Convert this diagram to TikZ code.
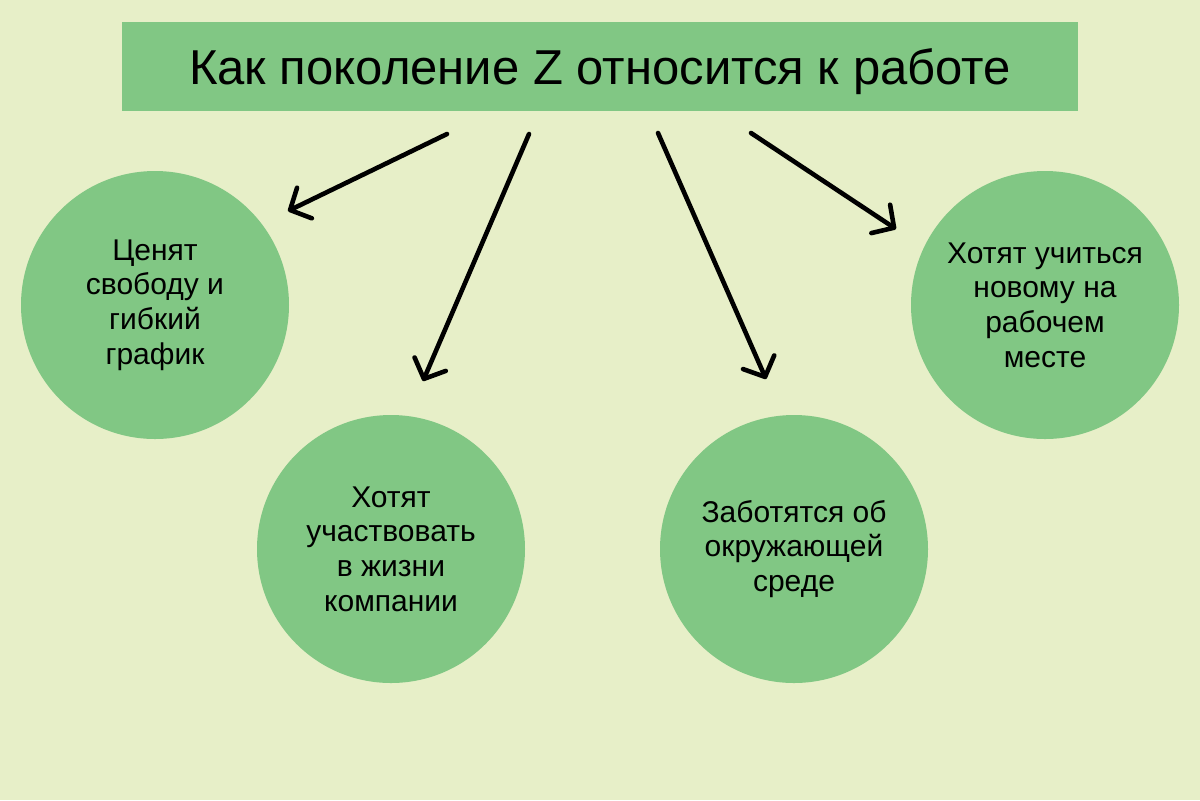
\documentclass[tikz,border=0pt]{standalone}
\usepackage{fontspec}
\setmainfont{Liberation Sans}
\usetikzlibrary{arrows.meta}
\definecolor{bgcol}{HTML}{E7EFC8}
\definecolor{leaf}{HTML}{81C784}

\begin{document}
\begin{tikzpicture}[x=0.5pt, y=-0.5pt]
   \tikzstyle{title}=[fill=leaf, minimum width=478pt, minimum height=44.5pt, inner sep=0pt, text depth=0pt, font=\fontsize{24.5}{29}\selectfont]
   \tikzstyle{idea}=[circle, fill=leaf, minimum size=134pt, inner sep=0pt, align=center, font=\fontsize{15}{17.3}\selectfont]
   \tikzstyle{pointer}=[line width=2.3pt, line cap=round, -{Straight Barb[length=8pt, width=17pt, round]}]

\useasboundingbox[fill=bgcol] (0,0) rectangle (1200,800);

\node[title] (head) at (600,66.5) {Как поколение Z относится к работе};

\node[idea] (free) at (155,305) {Ценят\\свободу и\\гибкий\\график};
\node[idea] (life) at (391,549) {Хотят\\участвовать\\в жизни\\компании};
\node[idea] (eco) at (794,549) {Заботятся об\\окружающей\\среде};
\node[idea] (learn) at (1045,305) {Хотят учиться\\новому на\\рабочем\\месте};

% arrows
\coordinate (s1) at (447,134); \coordinate (e1) at (288,211);
\coordinate (s2) at (529,134); \coordinate (e2) at (423,381);
\coordinate (s3) at (658,133); \coordinate (e3) at (766,379);
\coordinate (s4) at (751,133); \coordinate (e4) at (896,229);

\draw[pointer] (s1) -- (e1);
\draw[pointer] (s2) -- (e2);
\draw[pointer] (s3) -- (e3);
\draw[pointer] (s4) -- (e4);

\end{tikzpicture}
\end{document}
